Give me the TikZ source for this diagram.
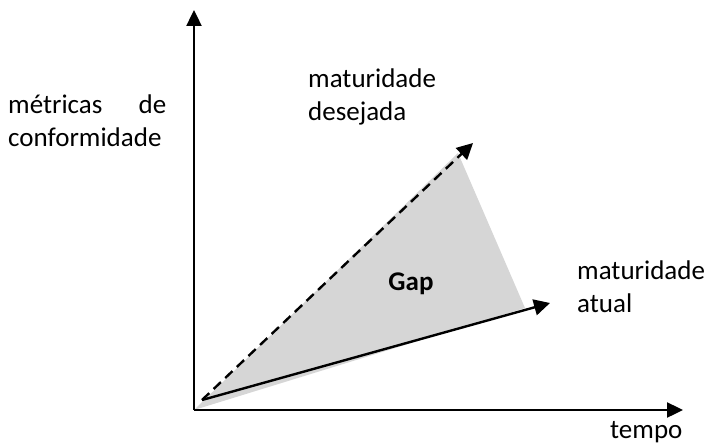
\documentclass[tikz,border=0pt]{standalone}
\usepackage{fontspec}
\setmainfont{Carlito}
\usetikzlibrary{arrows.meta,positioning}
\tikzset{axisline/.style={line width=2.4pt, -{Triangle[length=16pt,width=15pt]}}}
\tikzset{trendline/.style={line width=2.4pt, -{Triangle[length=16pt,width=16pt]}}}
\tikzset{lbl/.style={inner sep=0pt, font=\fontsize{27}{33}\selectfont, align=left}}

\begin{document}
\begin{tikzpicture}[x=1pt,y=-1pt]
    \useasboundingbox (0,0) rectangle (706,444);
    \coordinate (o) at (194,410);
    \coordinate (ytop) at (194,10);
    \coordinate (xend) at (683,410);
    
	\coordinate (s0) at (202,400);
	\coordinate (d1) at (473,143);
	\coordinate (a1) at (550,303);
	
	% gap area
	\fill[black!16] (o) -- (458,153) -- (525,308) -- cycle;
	
	\draw[trendline,dash pattern=on 10pt off 6pt] (s0) -- (d1);
	\draw[trendline] (s0) -- (a1);
	
	\draw[axisline] (o) -- (ytop);
	\draw[axisline] (o) -- (xend);
	
	\node[lbl,anchor=base west,text width=158pt,align=justify] (metric) at (8,113) {métricas de conformidade};
	\node[lbl,anchor=base west] (desej) at (308,120) {maturidade\\desejada};
	\node[lbl,anchor=base west] (atual) at (577,312) {maturidade\\atual};
	\node[lbl,anchor=base,font=\fontsize{27}{33}\selectfont\bfseries] (gap) at (411,290) {Gap};
	\node[lbl,anchor=base west] (tempo) at (610,438) {tempo};
	
\end{tikzpicture}
\end{document}
